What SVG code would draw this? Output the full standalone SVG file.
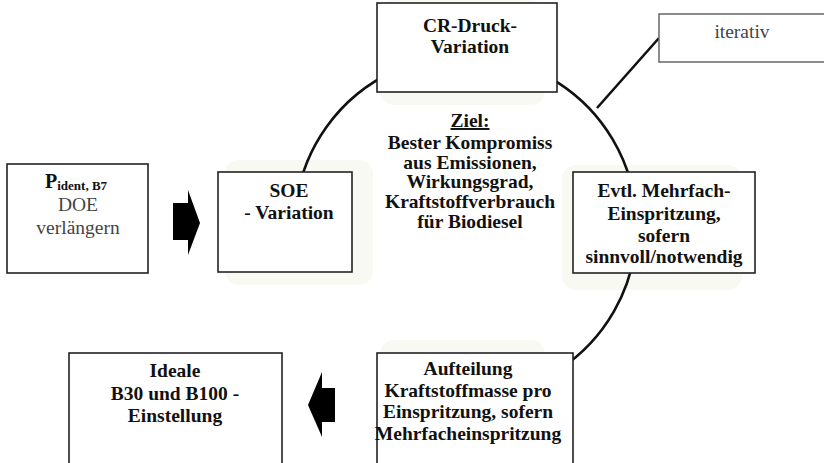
<svg xmlns="http://www.w3.org/2000/svg" width="824" height="463" viewBox="0 0 824 463">
<style>
.box{fill:#fff;stroke:#222;stroke-width:1.6}
.ghost{fill:#f9f9f4;stroke:none}
.b{font-family:"Liberation Serif",serif;font-weight:bold;font-size:19.5px;fill:#111;text-anchor:middle}
.r{font-family:"Liberation Serif",serif;font-size:19.5px;fill:#444;text-anchor:middle}
.conn{fill:none;stroke:#111;stroke-width:2.6}
.arrow{fill:#000}
</style>
<rect width="824" height="463" fill="#fff"/>
<g id="ghosts">
<rect class="ghost" x="380" y="0" width="165" height="105" rx="14"/>
<rect class="ghost" x="225" y="160" width="148" height="125" rx="14"/>
<rect class="ghost" x="562" y="165" width="180" height="125" rx="14"/>
<rect class="ghost" x="380" y="340" width="165" height="130" rx="14"/>
</g>
<g id="connectors">
<path class="conn" d="M 296.6 200 A 171 171 0 1 1 560 369"/>
<line class="conn" x1="659" y1="38" x2="597" y2="108" stroke-width="3"/>
<polygon class="arrow" points="173,203 188,203 188,190 200,223 188,255 188,240 173,240"/>
<polygon class="arrow" points="335,388 322,388 322,372 308,405 322,437 322,422 335,422"/>
</g>
<g id="cr-druck">
<rect class="box" x="377" y="3" width="180" height="89"/>
<text class="b" x="470" y="32">CR-Druck-</text>
<text class="b" x="470" y="53">Variation</text>
</g>
<g id="iterativ">
<rect x="659" y="14" width="175" height="48" fill="#fff" stroke="#666" stroke-width="1.5"/>
<text class="r" x="742" y="38">iterativ</text>
</g>
<g id="pident">
<rect class="box" x="7" y="164" width="141" height="109"/>
<text x="45" y="188" font-family="Liberation Serif, serif" font-weight="bold" font-size="20" fill="#111">P<tspan font-size="13" dy="2">ident, B7</tspan></text>
<text class="r" x="78" y="211">DOE</text>
<text class="r" x="78" y="234">verlängern</text>
</g>
<g id="soe">
<rect class="box" x="218" y="172" width="134" height="100"/>
<text class="b" x="289" y="197">SOE</text>
<text class="b" x="289" y="219">- Variation</text>
</g>
<g id="ziel">
<text class="b" x="470" y="127" text-decoration="underline">Ziel:</text>
<text class="b" x="470" y="149">Bester Kompromiss</text>
<text class="b" x="470" y="169">aus Emissionen,</text>
<text class="b" x="470" y="188">Wirkungsgrad,</text>
<text class="b" x="470" y="208">Kraftstoffverbrauch</text>
<text class="b" x="470" y="228">für Biodiesel</text>
</g>
<g id="mehrfach">
<rect class="box" x="573" y="172" width="182" height="101"/>
<text class="b" x="664" y="197">Evtl. Mehrfach-</text>
<text class="b" x="664" y="220">Einspritzung,</text>
<text class="b" x="664" y="242">sofern</text>
<text class="b" x="664" y="263">sinnvoll/notwendig</text>
</g>
<g id="aufteilung">
<rect class="box" x="377" y="353" width="196" height="120"/>
<text class="b" x="468" y="375">Aufteilung</text>
<text class="b" x="468" y="397">Kraftstoffmasse pro</text>
<text class="b" x="468" y="418">Einspritzung, sofern</text>
<text class="b" x="468" y="440">Mehrfacheinspritzung</text>
</g>
<g id="ideale">
<rect class="box" x="69" y="353" width="213" height="120"/>
<text class="b" x="175" y="377">Ideale</text>
<text class="b" x="175" y="400">B30 und B100 -</text>
<text class="b" x="175" y="422">Einstellung</text>
</g>
</svg>
